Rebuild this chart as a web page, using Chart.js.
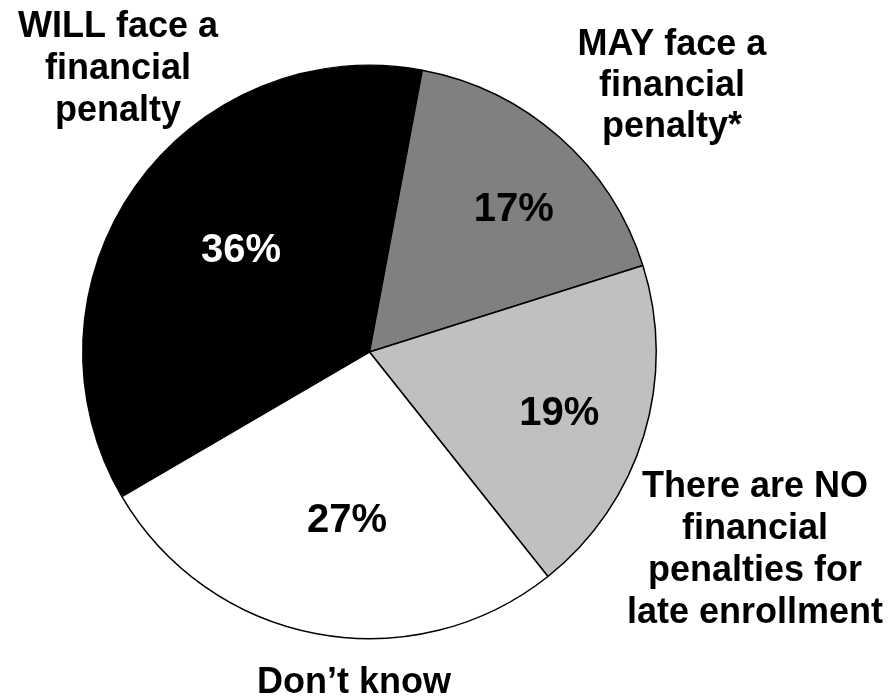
<!DOCTYPE html>
<html>
<head>
<meta charset="utf-8">
<script src="https://cdn.jsdelivr.net/npm/chart.js@4/dist/chart.umd.min.js"></script>
<style>
  html, body { margin: 0; padding: 0; background: #ffffff; }
  #wrap { width: 891px; height: 697px; }
</style>
</head>
<body>
<div id="wrap"><canvas id="c" width="891" height="697"></canvas></div>
<script>
// ---- data ----
const categories = [
  ["WILL face a", "financial", "penalty"],
  ["MAY face a", "financial", "penalty*"],
  ["There are NO", "financial", "penalties for", "late enrollment"],
  ["Don\u2019t know"]
];
const values = [36, 17, 19, 27];
const valueLabels = ["36%", "17%", "19%", "27%"];

// ---- styling ----
const sliceColors = ["#000000", "#808080", "#c0c0c0", "#ffffff"];
const pctColors = ["#ffffff", "#000000", "#000000", "#000000"];
const FONT = "'Liberation Sans', Arial, Helvetica, sans-serif";
// placement of the value labels inside slices: radius fraction and angle offset (deg)
const pctPlacement = [
  { r: 0.57, da: 3 },
  { r: 0.705, da: 4 },
  { r: 0.696, da: 1 },
  { r: 0.594, da: -3 }
];
// outside category label placement: centre x and first baseline, line step
const catPlacement = [
  { x: 118, y: 37, step: 42 },
  { x: 672, y: 55, step: 41 },
  { x: 755, y: 497, step: 42 },
  { x: 354, y: 693, step: 42 }
];

const labelPlugin = {
  id: 'pieLabels',
  afterDatasetsDraw(chart) {
    const ctx = chart.ctx;
    const meta = chart.getDatasetMeta(0);
    ctx.save();
    // value labels
    ctx.font = "bold 40px " + FONT;
    ctx.textAlign = 'center';
    ctx.textBaseline = 'middle';
    meta.data.forEach((arc, i) => {
      const p = arc.getProps(['x', 'y', 'startAngle', 'endAngle', 'outerRadius'], true);
      const mid = (p.startAngle + p.endAngle) / 2 + pctPlacement[i].da * Math.PI / 180;
      const rr = p.outerRadius * pctPlacement[i].r;
      ctx.fillStyle = pctColors[i];
      ctx.fillText(valueLabels[i], p.x + Math.cos(mid) * rr, p.y + Math.sin(mid) * rr);
    });
    // category labels
    ctx.font = "bold 36px " + FONT;
    ctx.textBaseline = 'alphabetic';
    ctx.fillStyle = '#000000';
    categories.forEach((lines, i) => {
      const pl = catPlacement[i];
      lines.forEach((t, j) => ctx.fillText(t, pl.x, pl.y + j * pl.step));
    });
    ctx.restore();
  }
};

new Chart(document.getElementById('c'), {
  type: 'pie',
  data: {
    labels: categories.map(l => l.join(' ')),
    datasets: [{
      data: values,
      backgroundColor: sliceColors,
      borderColor: '#000000',
      borderWidth: 1.5,
      hoverOffset: 0
    }]
  },
  options: {
    responsive: false,
    animation: false,
    rotation: 239.7,
    layout: { padding: { left: 82, right: 234, top: 64.5, bottom: 57.5 } },
    plugins: {
      legend: { display: false },
      tooltip: { enabled: false }
    }
  },
  plugins: [labelPlugin]
});
</script>
</body>
</html>
